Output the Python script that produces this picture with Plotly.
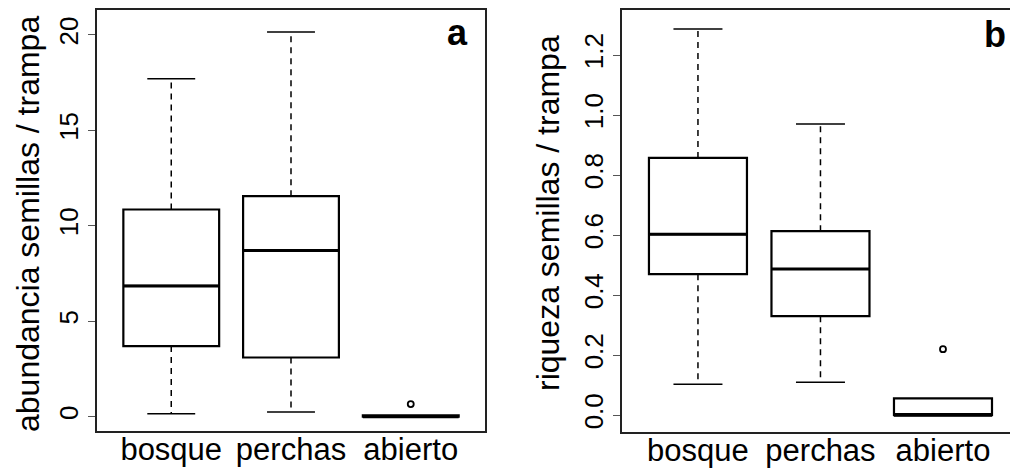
import plotly.graph_objects as go

# ---------------- data ----------------
categories = ["bosque", "perchas", "abierto"]
positions = [1, 2, 3]

# panel a: abundancia semillas / trampa
a_lower = [0.15, 0.25, 0.0]
a_q1 = [3.7, 3.1, 0.0]
a_median = [6.85, 8.7, 0.0]
a_q3 = [10.85, 11.55, 0.07]
a_upper = [17.7, 20.15, 0.07]
a_out_x = [3]
a_out_y = [0.66]

# panel b: riqueza semillas / trampa
b_lower = [0.103, 0.11, 0.0]
b_q1 = [0.47, 0.33, 0.0]
b_median = [0.603, 0.487, 0.0]
b_q3 = [0.857, 0.613, 0.056]
b_upper = [1.287, 0.97, 0.056]
b_out_x = [3]
b_out_y = [0.22]

a_ticks = [0, 5, 10, 15, 20]
b_ticks = [0.0, 0.2, 0.4, 0.6, 0.8, 1.0, 1.2]

FONT = "Liberation Sans, Arial, Helvetica, sans-serif"
BOXW = 0.8
CAPW = 0.4

fig = go.Figure()


def add_panel(xa, ya, lower, q1, med, q3, upper, ox, oy):
    # whiskers (dashed)
    wx, wy = [], []
    for p, lo, a, b, up in zip(positions, lower, q1, q3, upper):
        wx += [p, p, None, p, p, None]
        wy += [b, up, None, a, lo, None]
    fig.add_trace(go.Scatter(x=wx, y=wy, mode="lines", xaxis=xa, yaxis=ya,
                             line=dict(color="black", width=1.5, dash="6px,5px"),
                             hoverinfo="skip"))
    # caps
    cx, cy = [], []
    for p, lo, up, a, b in zip(positions, lower, upper, q1, q3):
        if up > b:
            cx += [p - CAPW / 2, p + CAPW / 2, None]
            cy += [up, up, None]
        if lo < a:
            cx += [p - CAPW / 2, p + CAPW / 2, None]
            cy += [lo, lo, None]
    fig.add_trace(go.Scatter(x=cx, y=cy, mode="lines", xaxis=xa, yaxis=ya,
                             line=dict(color="black", width=1.5),
                             hoverinfo="skip"))
    # boxes
    fig.add_trace(go.Box(x=positions, q1=q1, median=med, q3=q3,
                         lowerfence=q1, upperfence=q3, width=BOXW,
                         whiskerwidth=0, xaxis=xa, yaxis=ya,
                         fillcolor="white",
                         line=dict(color="black", width=2.2),
                         boxpoints=False))
    # thicker medians
    mx, my = [], []
    for p, m in zip(positions, med):
        mx += [p - BOXW / 2, p + BOXW / 2, None]
        my += [m, m, None]
    fig.add_trace(go.Scatter(x=mx, y=my, mode="lines", xaxis=xa, yaxis=ya,
                             line=dict(color="black", width=3),
                             hoverinfo="skip"))
    # outliers
    fig.add_trace(go.Scatter(x=ox, y=oy, mode="markers", xaxis=xa, yaxis=ya,
                             marker=dict(symbol="circle-open", size=6,
                                         color="black", line=dict(width=1.8)),
                             hoverinfo="skip"))


add_panel("x", "y", a_lower, a_q1, a_median, a_q3, a_upper, a_out_x, a_out_y)
add_panel("x2", "y2", b_lower, b_q1, b_median, b_q3, b_upper, b_out_x, b_out_y)

W, H = 1010, 468
frame = "#222222"

xcommon = dict(tickvals=positions, ticktext=categories, ticks="",
               showgrid=False, zeroline=False, showline=True, mirror=True,
               linecolor=frame, linewidth=1.5, automargin=False,
               ticklabelstandoff=-10,
               tickfont=dict(family=FONT, size=31, color="black"))
ycommon = dict(ticks="outside", ticklen=7, tickcolor="#555555", tickwidth=1,
               tickangle=-90, showgrid=False, zeroline=False, showline=True,
               linecolor=frame, linewidth=1.5, automargin=False,
               tickfont=dict(family=FONT, size=26, color="black"))

fig.update_layout(
    width=W, height=H,
    margin=dict(l=0, r=0, t=0, b=0),
    paper_bgcolor="white", plot_bgcolor="white",
    showlegend=False,
    xaxis=dict(domain=[97 / W, 485 / W], range=[0.38, 3.62], anchor="y", **xcommon),
    yaxis=dict(domain=[37 / H, 458 / H], range=[-0.75, 21.3], anchor="x",
               tickvals=a_ticks, mirror=True, **ycommon),
    xaxis2=dict(domain=[622 / W, 1.0], range=[0.38, 3.547], anchor="y2", **xcommon),
    yaxis2=dict(domain=[36 / H, 458 / H], range=[-0.056, 1.35], anchor="x2",
                tickvals=b_ticks, tickformat=".1f", mirror=False, **ycommon),
    annotations=[
        dict(text="abundancia semillas / trampa", xref="paper", yref="paper",
             x=28 / W, y=1 - 224 / H, textangle=-90, showarrow=False,
             xanchor="center", yanchor="middle",
             font=dict(family=FONT, size=32, color="black")),
        dict(text="riqueza semillas / trampa", xref="paper", yref="paper",
             x=548 / W, y=1 - 213 / H, textangle=-90, showarrow=False,
             xanchor="center", yanchor="middle",
             font=dict(family=FONT, size=32, color="black")),
        dict(text="<b>a</b>", xref="paper", yref="paper",
             x=457 / W, y=1 - 33 / H, showarrow=False,
             xanchor="center", yanchor="middle",
             font=dict(family=FONT, size=36, color="black")),
        dict(text="<b>b</b>", xref="paper", yref="paper",
             x=995 / W, y=1 - 35 / H, showarrow=False,
             xanchor="center", yanchor="middle",
             font=dict(family=FONT, size=36, color="black")),
    ],
)

fig.write_html("out.html")
